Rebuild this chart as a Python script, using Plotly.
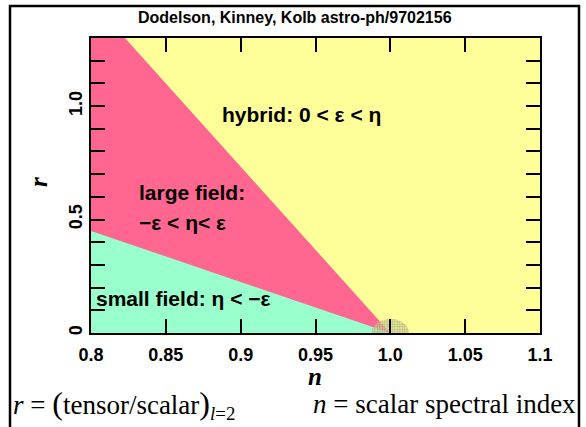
import numpy as np
import plotly.graph_objects as go

# Axis extents of the (n, r) plane
N_RANGE = [0.8, 1.1]
R_RANGE = [0.0, 1.3]

# Region boundaries in the (n, r) plane
# large-field / hybrid boundary
lh_n = [0.8227, 1.0]
lh_r = [1.3, 0.0]
# small-field / large-field boundary
sl_n = [0.8, 1.0]
sl_r = [0.45, 0.0]

# Stippled uncertainty half-disc around the scale-invariant point
disc_center_n = 1.0
disc_half_width = 0.0125
disc_height = 0.062

# Tick labels
x_tickvals = [0.8, 0.85, 0.9, 0.95, 1.0, 1.05, 1.1]
x_ticktext = ["0.8", "0.85", "0.9", "0.95", "1.0", "1.05", "1.1"]
y_tickvals = [0.0, 0.1, 0.2, 0.3, 0.4, 0.5, 0.6, 0.7, 0.8, 0.9, 1.0, 1.1, 1.2]
y_ticktext = ["0", "", "", "", "", "0.5", "", "", "", "", "1.0", "", ""]

YELLOW = "#FFFF99"
PINK = "#FF6690"
GREEN = "#99FFCC"

W, H = 586, 427
L, R, T, B = 91, 46, 38, 94
PW, PH = W - L - R, H - T - B


def px_x(px):
    return (px - L) / PW


def px_y(py):
    return (H - B - py) / PH


fig = go.Figure()

# large field region (pink)
fig.add_trace(go.Scatter(
    x=[N_RANGE[0]] + lh_n + [N_RANGE[0]],
    y=[R_RANGE[1]] + lh_r + [R_RANGE[0]],
    fill="toself", fillcolor=PINK, mode="lines", line=dict(width=0),
    hoverinfo="skip", showlegend=False))

# small field region (green)
fig.add_trace(go.Scatter(
    x=sl_n + [N_RANGE[0]],
    y=sl_r + [R_RANGE[0]],
    fill="toself", fillcolor=GREEN, mode="lines", line=dict(width=0),
    hoverinfo="skip", showlegend=False))

# stippled half-disc
theta = np.linspace(0, np.pi, 60)
fig.add_trace(go.Scatter(
    x=disc_center_n + disc_half_width * np.cos(theta),
    y=disc_height * np.sin(theta),
    fill="toself", fillcolor="rgba(240,240,150,0.6)",
    fillpattern=dict(shape=".", fgcolor="#707070", size=2.5, solidity=0.5,
                     fillmode="overlay"),
    mode="lines", line=dict(width=0), hoverinfo="skip", showlegend=False))

label_font = dict(family="Liberation Sans, Arial", size=21, color="black", weight="bold")

fig.add_annotation(x=0.9405, y=0.965, text="hybrid: 0 &lt; ε &lt; η", showarrow=False,
                   xanchor="center", yanchor="middle", font=label_font)
fig.add_annotation(x=0.831, y=0.617, text="large field:", showarrow=False,
                   xanchor="left", yanchor="middle", font=label_font)
fig.add_annotation(x=0.831, y=0.489, text="−ε &lt; η&lt; ε", showarrow=False,
                   xanchor="left", yanchor="middle", font=label_font)
fig.add_annotation(x=0.802, y=0.150, text="small field: η &lt; −ε", showarrow=False,
                   xanchor="left", yanchor="middle", font=label_font)

# title
fig.add_annotation(xref="paper", yref="paper", x=px_x(295), y=px_y(18),
                   text="Dodelson, Kinney, Kolb astro-ph/9702156", showarrow=False,
                   xanchor="center", yanchor="middle",
                   font=dict(family="Liberation Sans, Arial", size=16, color="black", weight="bold"))

# axis titles
serif_title = dict(family="Liberation Serif, Times New Roman", size=25, color="black")
fig.add_annotation(xref="paper", yref="paper", x=px_x(315), y=px_y(376),
                   text="<b><i>n</i></b>", showarrow=False,
                   xanchor="center", yanchor="middle", font=serif_title)
fig.add_annotation(xref="paper", yref="paper", x=px_x(38), y=px_y(182),
                   text="<b><i>r</i></b>", showarrow=False, textangle=-90,
                   xanchor="center", yanchor="middle", font=serif_title)

# definitions along the bottom
def_font = dict(family="Liberation Serif, Times New Roman", size=27, color="black")
fig.add_annotation(xref="paper", yref="paper", x=px_x(11), y=px_y(404),
                   text="<i>r</i> = <span style='font-size:32px'>(</span>tensor/scalar"
                        "<span style='font-size:32px'>)</span><sub><i>l</i>=2</sub>",
                   showarrow=False, xanchor="left", yanchor="middle", font=def_font)
fig.add_annotation(xref="paper", yref="paper", x=px_x(578), y=px_y(404),
                   text="<i>n</i> = scalar spectral index", showarrow=False,
                   xanchor="right", yanchor="middle", font=def_font)

# outer frame
fig.add_shape(type="rect", xref="paper", yref="paper",
              x0=px_x(10), x1=px_x(579), y0=px_y(445), y1=px_y(6),
              line=dict(color="black", width=2.5), fillcolor="rgba(0,0,0,0)", layer="above")

tick_font = dict(family="Liberation Sans, Arial", size=18, color="black", weight="bold")

fig.update_xaxes(range=N_RANGE, tickvals=x_tickvals, ticktext=x_ticktext,
                 ticks="inside", ticklen=14, tickwidth=2, tickcolor="black",
                 showline=True, linewidth=2, linecolor="black", mirror="allticks",
                 showgrid=False, zeroline=False, tickfont=tick_font,
                 ticklabelstandoff=4)
fig.update_yaxes(range=R_RANGE, tickvals=y_tickvals, ticktext=y_ticktext,
                 ticks="inside", ticklen=14, tickwidth=2, tickcolor="black",
                 showline=True, linewidth=2, linecolor="black", mirror="allticks",
                 showgrid=False, zeroline=False, tickfont=tick_font, tickangle=-90,
                 ticklabelstandoff=0)

fig.update_layout(width=W, height=H, margin=dict(l=L, r=R, t=T, b=B),
                  plot_bgcolor=YELLOW, paper_bgcolor="white", showlegend=False)

fig.write_html("out.html")
